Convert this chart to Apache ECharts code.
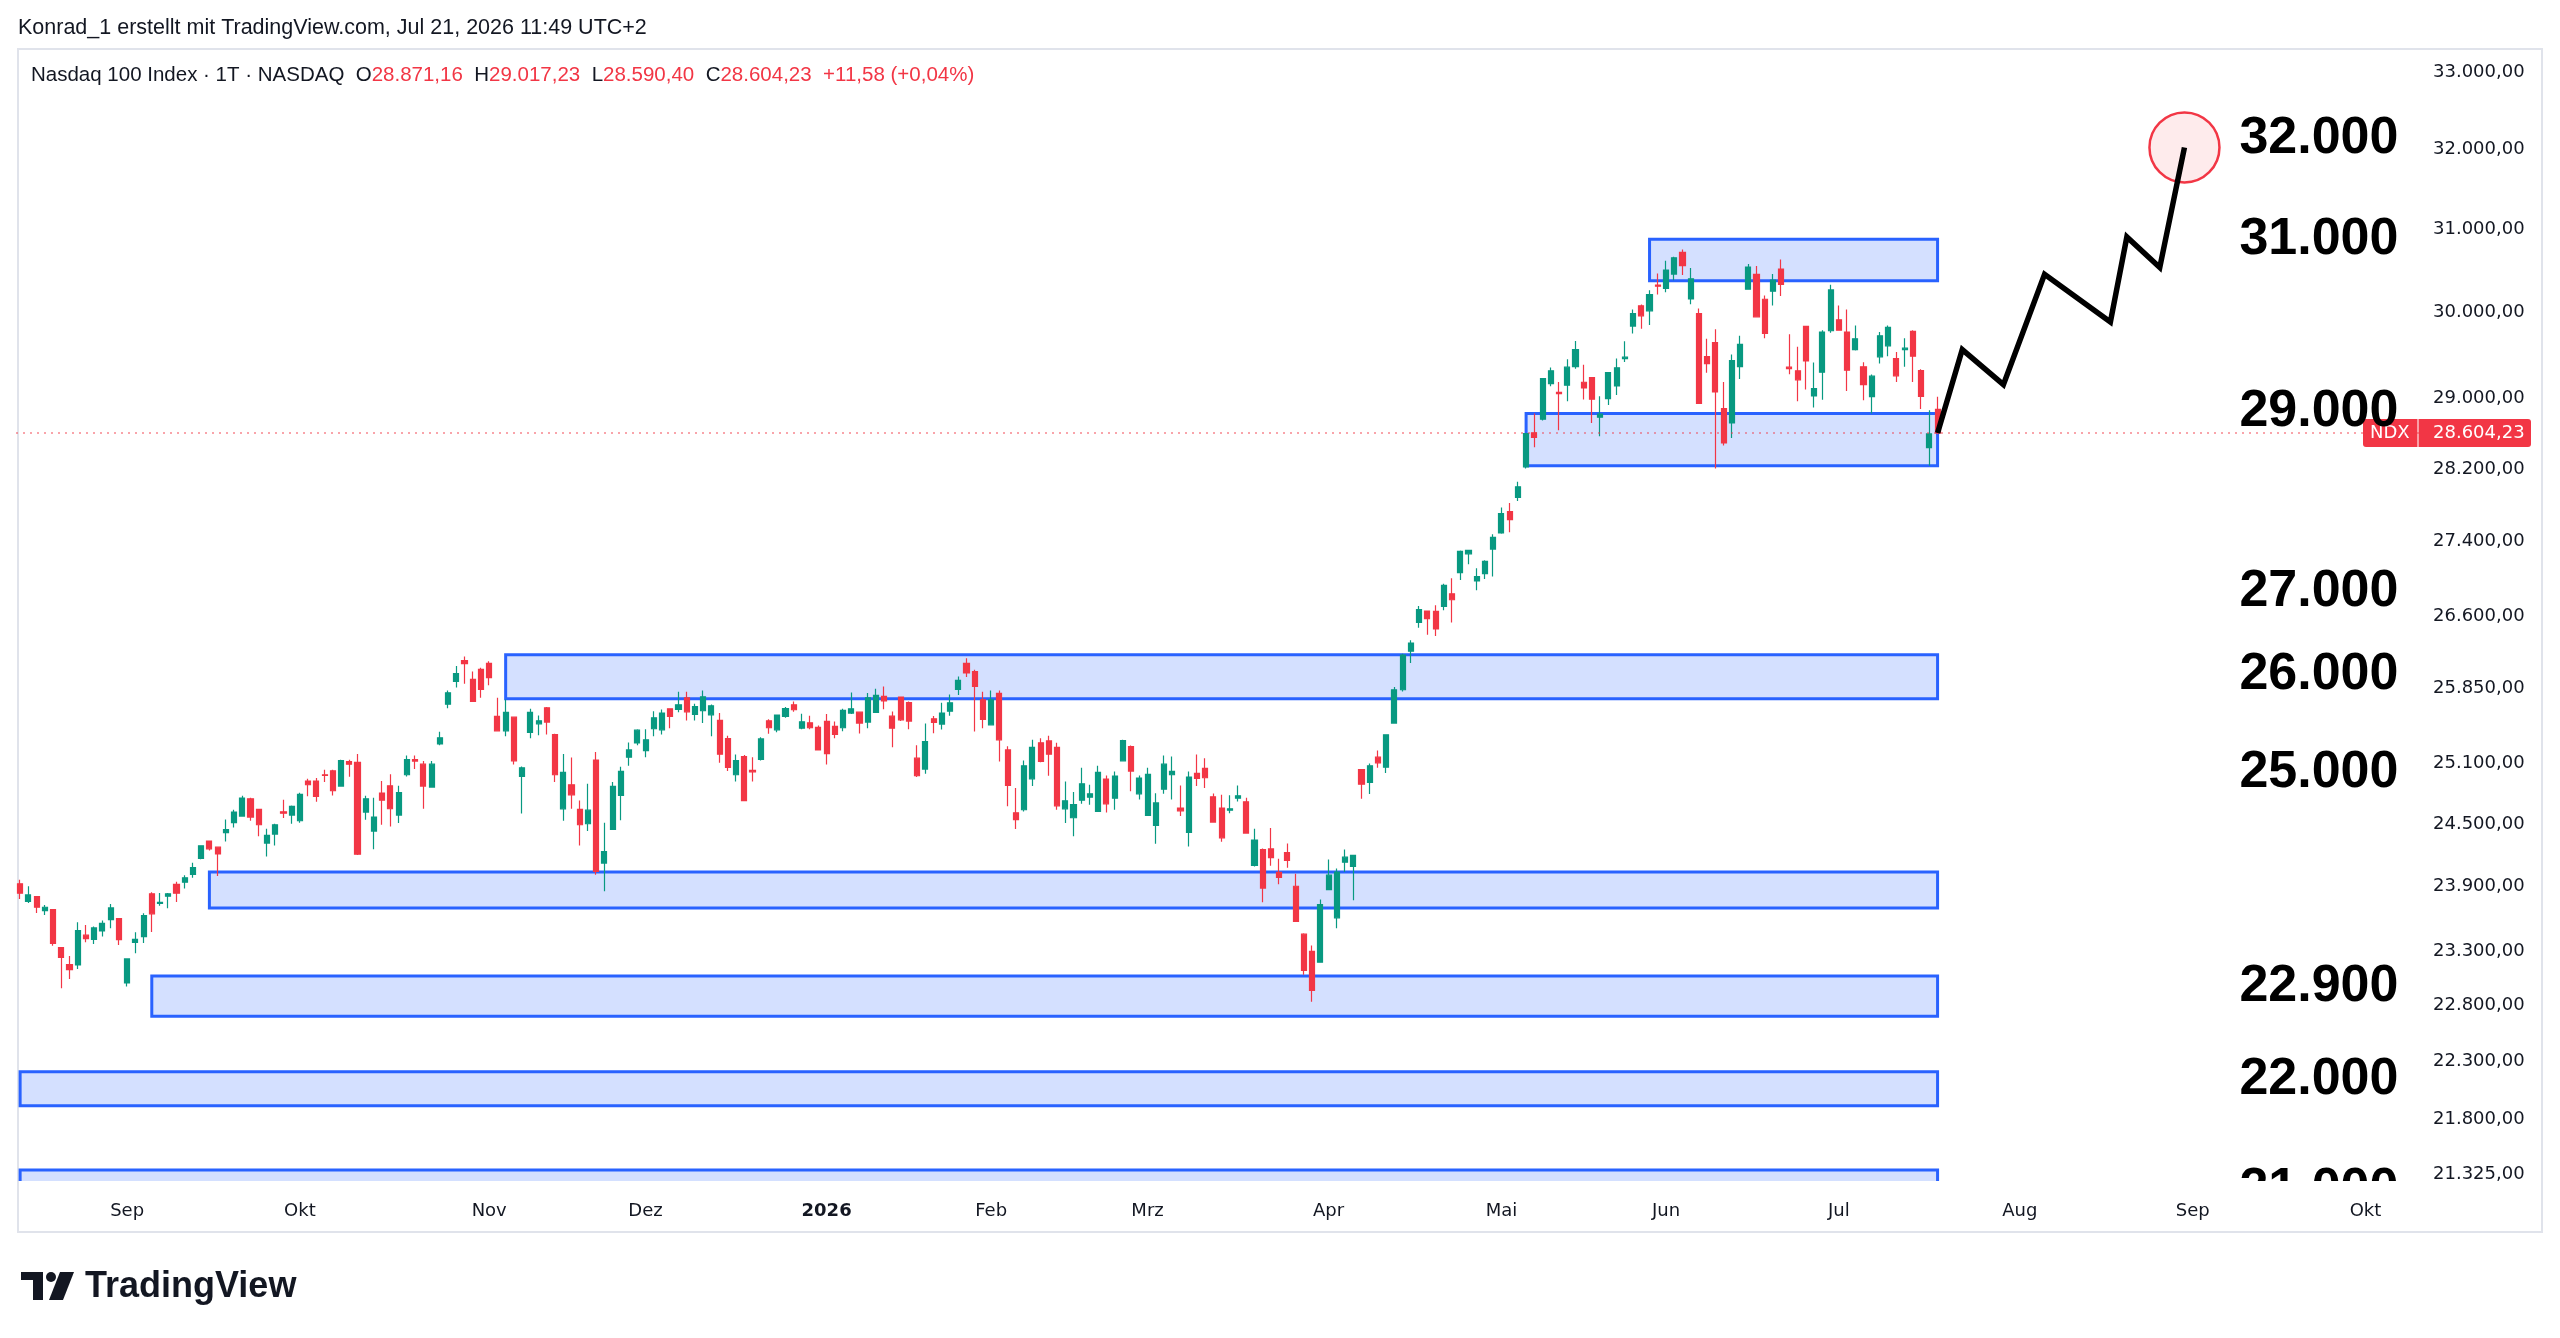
<!DOCTYPE html>
<html><head><meta charset="utf-8">
<script src="https://cdn.jsdelivr.net/npm/echarts@6/dist/echarts.min.js"></script>
<style>html,body{margin:0;padding:0;background:#fff}#c{width:2560px;height:1338px}</style>
</head><body><div id="c"></div>
<script>
// ---------- calendar ----------
const startDate = '2025-08-13';
const endDate = '2026-10-09';
const holidays = ['2025-09-01','2025-11-27','2025-12-25','2026-01-01','2026-01-19','2026-02-16','2026-04-03','2026-05-25','2026-06-19','2026-07-03','2026-09-07'];
const monthNames = ['Jan','Feb','Mrz','Apr','Mai','Jun','Jul','Aug','Sep','Okt','Nov','Dez'];

// ---------- OHLC ----------
const openP = [23928,23763,23808,23676,23685,23331,23175,23172,23446,23408,
23486,23592,23601,23007,23380,23433,23833,23744,23811,23922,
23944,24017,24169,24336,24278,24417,24514,24578,24747,24643,
24317,24404,24620,24588,24533,24921,24921,24984,25023,24872,
25115,25106,24617,24433,24803,24875,24588,24984,25135,25089,
24862,25291,25692,25925,26138,25946,26048,26110,25567,25422,
25560,24967,25405,25493,25655,25385,24649,24885,24643,24504,
25129,24125,24449,24780,25158,25301,25224,25443,25432,25645,
25638,25757,25587,25625,25584,25527,25345,24984,25165,25027,
25135,25523,25432,25567,25685,25449,25503,25456,25517,25466,
25453,25601,25611,25510,25608,25771,25570,25764,25709,25148,
25040,25543,25490,25621,25843,26110,26025,25736,25483,25801,
25231,24611,24640,24944,25302,25321,25257,24649,24562,24733,
24763,24623,24941,24753,25122,25264,24796,24585,24488,24842,
24984,24656,24420,24997,25046,24767,24656,24636,24753,24717,
24102,24255,24261,24036,24226,23905,23456,23297,23197,23873,
23608,24134,24093,25036,24908,25158,25059,25500,25839,26237,
26538,26657,26654,26706,26840,27065,27268,26976,27054,27319,
27493,27727,27884,28223,28605,28760,29169,29068,29150,29366,
29184,29239,28783,28995,29142,29459,29840,30080,30021,30328,
30288,30461,30723,30163,29989,29482,29647,28881,28718,29366,
30280,30457,30159,30255,30521,29359,29316,29836,29026,29301,
29785,29915,29769,29564,29363,29018,29479,29608,29459,29564,
29777,29320,28438,28871.16];
const highP = [23966,23906,23811,23729,23691,23334,23254,23567,23542,23526,
23582,23738,23607,23233,23473,23651,23849,23842,23842,23947,
24010,24128,24294,24342,24284,24546,24640,24777,24757,24649,
24456,24504,24737,24682,24806,24944,24951,25033,25033,25132,
25132,25191,24777,24757,24921,24990,24875,25175,25175,25119,
25119,25412,25832,26083,26182,26025,26065,26131,25757,25739,
25567,25066,25645,25577,25662,25392,25191,25155,24730,24895,
25211,24514,24911,25063,25305,25439,25439,25621,25638,25645,
25818,25818,25695,25832,25689,25601,25372,25185,25181,25158,
25358,25540,25588,25662,25719,25594,25574,25476,25591,25517,
25645,25812,25618,25805,25849,25873,25618,25771,25719,25278,
25496,25571,25705,25791,25976,26162,26045,25818,25832,25832,
25267,24852,25125,25332,25348,25372,25302,24918,24813,25053,
24885,25073,24977,25017,25332,25274,24977,25053,24802,25175,
25165,24878,25017,25185,25148,24800,24786,24783,24878,24757,
24456,24264,24462,24166,24313,24023,23465,23350,23781,24159,
24074,24255,24204,25036,25096,25224,25382,25866,26210,26349,
26710,26657,26717,26947,27004,27304,27304,27111,27197,27479,
27771,27822,28057,28597,28824,29227,29355,29188,29452,29666,
29386,29239,29022,29297,29459,29661,30037,30096,30267,30469,
30622,30670,30759,30533,30049,29691,29804,29188,29506,29726,
30582,30558,30203,30461,30638,29745,29596,29836,29413,29792,
30332,30084,30037,29848,29417,29273,29769,29848,29537,29698,
29790,29336,28862,29017.23];
const lowP = [23785,23747,23654,23635,23349,22958,23044,23135,23380,23365,
23433,23511,23355,22974,23279,23374,23477,23722,23697,23757,
23884,23985,24163,24245,24001,24333,24468,24575,24533,24384,
24188,24294,24559,24504,24514,24773,24717,24911,24780,24869,
24964,24203,24543,24258,24494,24478,24510,24967,25040,24649,
24855,25278,25651,25863,25901,25719,25757,25884,25415,25368,
25086,24604,25348,25378,25385,24912,24533,24649,24294,24433,
24014,23858,24449,24539,25073,25278,25158,25368,25385,25449,
25611,25527,25527,25500,25368,25102,25020,24918,24730,24918,
25125,25392,25409,25554,25614,25439,25439,25224,25086,25348,
25419,25591,25395,25449,25608,25641,25257,25520,25439,24961,
24994,25398,25436,25574,25784,25970,25415,25449,25483,25115,
24675,24452,24623,24872,25109,24974,24640,24510,24384,24698,
24688,24623,24614,24640,25122,24820,24740,24578,24310,24796,
24740,24578,24284,24872,24852,24520,24329,24607,24721,24414,
24093,23753,24099,23924,24080,23574,23082,22837,23197,23873,
23511,24039,23772,24747,24793,25053,25000,25493,25822,26114,
26482,26409,26395,26664,26535,26986,27154,26876,26997,27025,
27486,27501,27844,28204,28442,28745,29138,28635,28965,29339,
28984,28718,28567,28923,29037,29420,29753,29808,29852,30215,
30244,30388,30449,30100,28934,29293,28204,28461,28548,29223,
30280,29950,29698,30084,30199,29277,28965,29099,28893,28983,
29761,29785,29084,29552,28976,28824,29401,29486,29188,29363,
29188,28878,28234,28590.40];
const closeP = [23839,23823,23707,23707,23371,23242,23129,23489,23414,23514,
23557,23701,23405,23227,23408,23629,23645,23753,23833,23839,
23985,24083,24291,24262,24213,24446,24617,24754,24569,24494,
24391,24494,24607,24672,24790,24885,24770,24977,24826,25125,
25089,24210,24747,24569,24734,24650,24809,25135,25119,24872,
25089,25352,25808,26004,26107,25719,25843,25963,25422,25608,
25122,25053,25608,25523,25510,24984,25007,24786,24494,24636,
24045,24235,24869,25017,25231,25429,25332,25554,25601,25567,
25685,25614,25668,25767,25675,25188,25056,25125,24730,25013,
25341,25453,25581,25648,25635,25513,25453,25230,25194,25385,
25628,25645,25500,25757,25781,25726,25449,25533,25520,24974,
25315,25506,25601,25705,25935,26011,25873,25537,25736,25332,
24878,24543,25073,25257,25115,25188,24678,24727,24691,24895,
24796,25007,24698,24971,25325,25020,24951,24987,24707,25089,
25017,24630,24961,24948,24954,24520,24368,24649,24776,24414,
24346,23888,24178,23988,24150,23574,23121,22939,23732,24010,
24039,24182,24198,24891,25073,25102,25382,25839,26196,26321,
26671,26577,26468,26929,26776,27293,27304,27022,27186,27446,
27705,27639,28001,28597,28555,29227,29316,29053,29359,29564,
29119,28988,28817,29297,29351,29475,29989,29962,30215,30316,
30509,30658,30562,30404,28942,29401,29072,28491,29436,29624,
30545,29950,29753,30388,30336,29343,29212,29432,29111,29769,
30271,29792,29324,29691,29157,29254,29726,29824,29258,29580,
29486,29022,28592.65,28604.23];

// ---------- price scale ticks ----------
const tickValues = [33000,32000,31000,30000,29000,28200,27400,26600,25850,25100,24500,23900,23300,22800,22300,21800,21325];
const yMin = 21272, yMax = 33300;

// ---------- drawn zones (rectangles) ----------
const zoneStart = ['2026-05-28','2026-05-06','2025-11-05','2025-09-16','2025-09-05','2025-08-13','2025-08-13'];
const zoneEnd   = ['2026-07-20','2026-07-20','2026-07-20','2026-07-20','2026-07-20','2026-07-20','2026-07-20'];
const zoneHigh  = [30883,28824,26200,24039,23071,22212,21365];
const zoneLow   = [30380,28234,25747,23701,22706,21915,21000];

// ---------- projection path ----------
const projDates  = ['2026-07-20','2026-07-23','2026-07-30','2026-08-06','2026-08-18','2026-08-20','2026-08-26','2026-08-31'];
const projValues = [28604.23,29564,29157,30459,29889,30913,30541,32027];

// ---------- big level annotations ----------
const annotTexts  = ['32.000','31.000','29.000','27.000','26.000','25.000','22.900','22.000','21.000'];
const annotPrices = [32133,30873,28850,26865,25998,25005,22973,22142,21198];
const annotDate = '2026-10-07';

// ---------- build categories ----------
function pad(n){return n<10?'0'+n:''+n;}
const categories = [];
{
  let d = new Date(startDate+'T00:00:00Z');
  const e = new Date(endDate+'T00:00:00Z');
  while (d <= e) {
    const wd = d.getUTCDay();
    const s = d.getUTCFullYear()+'-'+pad(d.getUTCMonth()+1)+'-'+pad(d.getUTCDate());
    if (wd !== 0 && wd !== 6 && holidays.indexOf(s) < 0) categories.push(s);
    d = new Date(d.getTime()+86400000);
  }
}
const idx = s => categories.indexOf(s);

function deFmt(v, dec){
  const neg = v < 0; v = Math.abs(v);
  const parts = v.toFixed(dec).split('.');
  const ip = parts[0].replace(/\B(?=(\d{3})+(?!\d))/g, '.');
  return (neg?'-':'') + ip + (dec>0 ? ','+parts[1] : '');
}

const candleData = openP.map((o,i)=>[o, closeP[i], lowP[i], highP[i]]);
const zoneData = zoneStart.map((s,i)=>[idx(s), idx(zoneEnd[i]), zoneLow[i], zoneHigh[i]]);
const projData = projDates.map((d,i)=>[d, projValues[i]]);
const annotData = annotPrices.map(p=>[idx(annotDate), p]);

const n = closeP.length;
const lastClose = closeP[n-1];
const chg = closeP[n-1]-closeP[n-2];
const chgPct = chg/closeP[n-2]*100;

const UP = '#089981', DOWN = '#F23645', TXT = '#131722';
const FONT = '"Liberation Sans", Arial, sans-serif';
const AXFONT = '"DejaVu Sans", sans-serif';

const chart = echarts.init(document.getElementById('c'));
chart.setOption({
  animation: false,
  backgroundColor: '#ffffff',
  grid: {left: 16, right: 141, top: 49, bottom: 157, containLabel: false},
  xAxis: {
    type: 'category', data: categories, boundaryGap: true,
    axisLine: {show: false}, axisTick: {show: false}, splitLine: {show: false},
    axisLabel: {
      interval: (i) => i > 0 && categories[i].slice(0,7) !== categories[i-1].slice(0,7),
      formatter: (v) => {
        const m = +v.slice(5,7);
        return m === 1 ? '{b|' + v.slice(0,4) + '}' : monthNames[m-1];
      },
      rich: {b: {fontWeight: 'bold', fontSize: 18, color: TXT, fontFamily: AXFONT}},
      fontSize: 18, color: TXT, fontFamily: AXFONT, margin: 21
    }
  },
  yAxis: {
    type: 'log', logBase: 10, min: yMin, max: yMax, position: 'right',
    axisLine: {show: false}, axisTick: {show: false}, splitLine: {show: false},
    axisLabel: {
      customValues: tickValues,
      formatter: v => deFmt(v, 2),
      fontSize: 18, color: TXT, fontFamily: AXFONT, margin: 14
    }
  },
  series: [
    {
      type: 'custom', name: 'zones', z: 1, clip: true,
      data: zoneData,
      encode: {x: [0,1], y: [2,3]},
      renderItem: (params, api) => {
        const p1 = api.coord([api.value(0), api.value(3)]);
        const p2 = api.coord([api.value(1), api.value(2)]);
        return {type: 'rect', shape: {x: p1[0], y: p1[1], width: p2[0]-p1[0], height: p2[1]-p1[1]},
          style: {fill: 'rgba(41,98,255,0.2)', stroke: '#2962FF', lineWidth: 3}};
      },
      silent: true
    },
    {
      type: 'candlestick', name: 'NDX', z: 2,
      data: candleData,
      barWidth: '68%',
      itemStyle: {color: UP, color0: DOWN, borderColor: UP, borderColor0: DOWN, borderWidth: 1.2},
      markLine: {
        silent: true, symbol: ['none','none'],
        label: {show: false},
        lineStyle: {color: '#F23645', type: [2,5], width: 1.5, opacity: 0.6},
        data: [{yAxis: lastClose}]
      }
    },
    {
      type: 'scatter', name: 'target', z: 3,
      data: [projData[projData.length-1]],
      symbolSize: 70,
      itemStyle: {color: 'rgba(242,54,69,0.10)', borderColor: '#F23645', borderWidth: 2.5, opacity: 1},
      silent: true
    },
    {
      type: 'line', name: 'projection', z: 4,
      data: projData, showSymbol: false, symbol: 'none',
      lineStyle: {color: '#000000', width: 5.5, join: 'miter'},
      silent: true
    },
    {
      type: 'custom', name: 'levels', z: 5, clip: true,
      data: annotData,
      encode: {x: 0, y: 1},
      renderItem: (params, api) => {
        const p = api.coord([api.value(0), api.value(1)]);
        return {type: 'text', x: p[0], y: p[1],
          style: {text: annotTexts[params.dataIndex], fontSize: 52, fontWeight: 'bold', fontFamily: FONT,
            fill: '#000000', align: 'right', verticalAlign: 'middle'}};
      },
      silent: true
    }
  ]
});

const yPix = chart.convertToPixel({yAxisIndex: 0}, lastClose);
const legendText =
  'Nasdaq 100 Index · 1T · NASDAQ  {k|O}{v|' + deFmt(openP[n-1],2) + '}  {k|H}{v|' + deFmt(highP[n-1],2) +
  '}  {k|L}{v|' + deFmt(lowP[n-1],2) + '}  {k|C}{v|' + deFmt(closeP[n-1],2) + '}  {v|' +
  (chg>=0?'+':'') + deFmt(chg,2) + ' (' + (chg>=0?'+':'') + deFmt(chgPct,2) + '%)}';

chart.setOption({
  graphic: {elements: [
    {type: 'rect', silent: true, z: -10, shape: {x: 18, y: 49, width: 2524, height: 1183},
      style: {fill: null, stroke: '#e0e3eb', lineWidth: 2}},
    {type: 'text', x: 18, y: 28, silent: true,
      style: {text: 'Konrad_1 erstellt mit TradingView.com, Jul 21, 2026 11:49 UTC+2', fontSize: 21.5, fontFamily: FONT,
        fill: TXT, verticalAlign: 'middle', align: 'left'}},
    {type: 'text', x: 31, y: 75, silent: true, z: 100,
      style: {text: legendText, fontSize: 20.5, fontFamily: FONT, fill: TXT, verticalAlign: 'middle', align: 'left',
        rich: {k: {fontSize: 20.5, fontFamily: FONT, fill: TXT, color: TXT}, v: {fontSize: 20.5, fontFamily: FONT, fill: '#F23645', color: '#F23645'}}}},
    // price badge
    {type: 'group', x: 0, y: yPix, z: 100, silent: true, children: [
      {type: 'rect', shape: {x: 2363, y: -14, width: 168, height: 28, r: 3}, style: {fill: '#F23645'}},
      {type: 'line', shape: {x1: 2418, y1: -14, x2: 2418, y2: 14}, style: {stroke: 'rgba(255,255,255,0.7)', lineWidth: 1.5}},
      {type: 'text', x: 2370, y: 0, style: {text: 'NDX', fontSize: 18, fontFamily: AXFONT, fill: '#ffffff', verticalAlign: 'middle'}},
      {type: 'text', x: 2433, y: 0, style: {text: deFmt(lastClose,2), fontSize: 18, fontFamily: AXFONT, fill: '#ffffff', verticalAlign: 'middle'}}
    ]},
    // TradingView logo
    {type: 'group', x: 0, y: 0, silent: true, children: [
      {type: 'rect', shape: {x: 21, y: 1272, width: 22, height: 8}, style: {fill: '#131722'}},
      {type: 'rect', shape: {x: 33, y: 1272, width: 10, height: 28}, style: {fill: '#131722'}},
      {type: 'circle', shape: {cx: 51, cy: 1277, r: 5}, style: {fill: '#131722'}},
      {type: 'polygon', shape: {points: [[60,1272],[74,1272],[63,1300],[49,1300]]}, style: {fill: '#131722'}},
      {type: 'text', x: 85, y: 1287, style: {text: 'TradingView', fontSize: 36, fontWeight: 'bold', fontFamily: FONT, fill: '#131722', verticalAlign: 'middle'}}
    ]}
  ]}
});
</script>
</body></html>
